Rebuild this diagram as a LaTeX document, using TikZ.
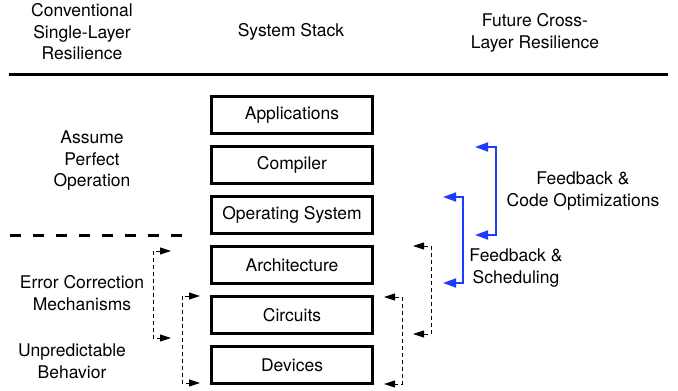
\documentclass[tikz,border=0pt]{standalone}
\usepackage{fontspec}
\setmainfont{TeX Gyre Heros}
\usetikzlibrary{arrows.meta}
\definecolor{fbblue}{RGB}{30,60,255}
\tikzset{
	layer/.style={draw, line width=2.8pt, minimum width=161pt, minimum height=37pt, inner sep=0pt, font=\fontsize{17.5}{21}\selectfont},
	label/.style={align=center, inner sep=0pt, font=\fontsize{17.5}{21.5}\selectfont},
	dfb/.style={dash pattern=on 4pt off 3pt, line width=0.9pt, {Triangle[length=11pt,width=7pt]}-{Triangle[length=11pt,width=7pt]}},
	bfb/.style={fbblue, line width=1.8pt, {Triangle[length=13pt,width=9pt]}-{Triangle[length=13pt,width=9pt]}}
}
\begin{document}
\begin{tikzpicture}[x=1pt, y=-1pt]
	%%%%% START %%%%%
	\useasboundingbox (0,0) rectangle (678,391);
	
	\node[label] (conv) at (82,32) {Conventional\\Single-Layer\\Resilience};
	\node[label] (stack) at (291,32) {System Stack};
	\node[label] (future) at (535,33) {Future Cross-\\Layer Resilience};
	\draw[line width=3pt] (9,74) -- (668,74);
	
	\node[layer] (app) at (292,115) {Applications};
	\node[layer] (comp) at (292,165) {Compiler};
	\node[layer] (os) at (292,215) {Operating System};
	\node[layer] (arch) at (292,265) {Architecture};
	\node[layer] (circ) at (292,315) {Circuits};
	\node[layer] (dev) at (292,365) {Devices};
	
	\node[label] (perfect) at (92,161) {Assume\\Perfect\\Operation};
	\draw[line width=3pt, dash pattern=on 11pt off 12pt] (10,235) -- (190,235);
	\node[label] (ecc) at (82,293) {Error Correction\\Mechanisms};
	\node[label] (unpred) at (72,361) {Unpredictable\\Behavior};
	
	% left brackets
	\coordinate (l1a) at (171,251); \coordinate (l1b) at (171,338);
	\coordinate (l2a) at (200,296); \coordinate (l2b) at (200,383);
	\draw[dfb] (l1a) -- (153,251) -- (153,338) -- (l1b);
	\draw[dfb] (l2a) -- (182,296) -- (182,383) -- (l2b);
	
	% right brackets
	\coordinate (r1a) at (413,246); \coordinate (r1b) at (413,334);
	\coordinate (r2a) at (384,297); \coordinate (r2b) at (384,384);
	\draw[dfb] (r1a) -- (431,246) -- (431,334) -- (r1b);
	\draw[dfb] (r2a) -- (402,297) -- (402,384) -- (r2b);
	
	% feedback
	\coordinate (b1a) at (475,147); \coordinate (b1b) at (475,235);
	\coordinate (b2a) at (443,197); \coordinate (b2b) at (443,283);
	\draw[bfb] (b1a) -- (496,147) -- (496,235) -- (b1b);
	\draw[bfb] (b2a) -- (463,197) -- (463,283) -- (b2b);
	
	\node[label] (codeopt) at (583,191) {Feedback \&\\Code Optimizations};
	\node[label] (sched) at (516,268) {Feedback \&\\Scheduling};
	%%%%% END %%%%%
\end{tikzpicture}
\end{document}
